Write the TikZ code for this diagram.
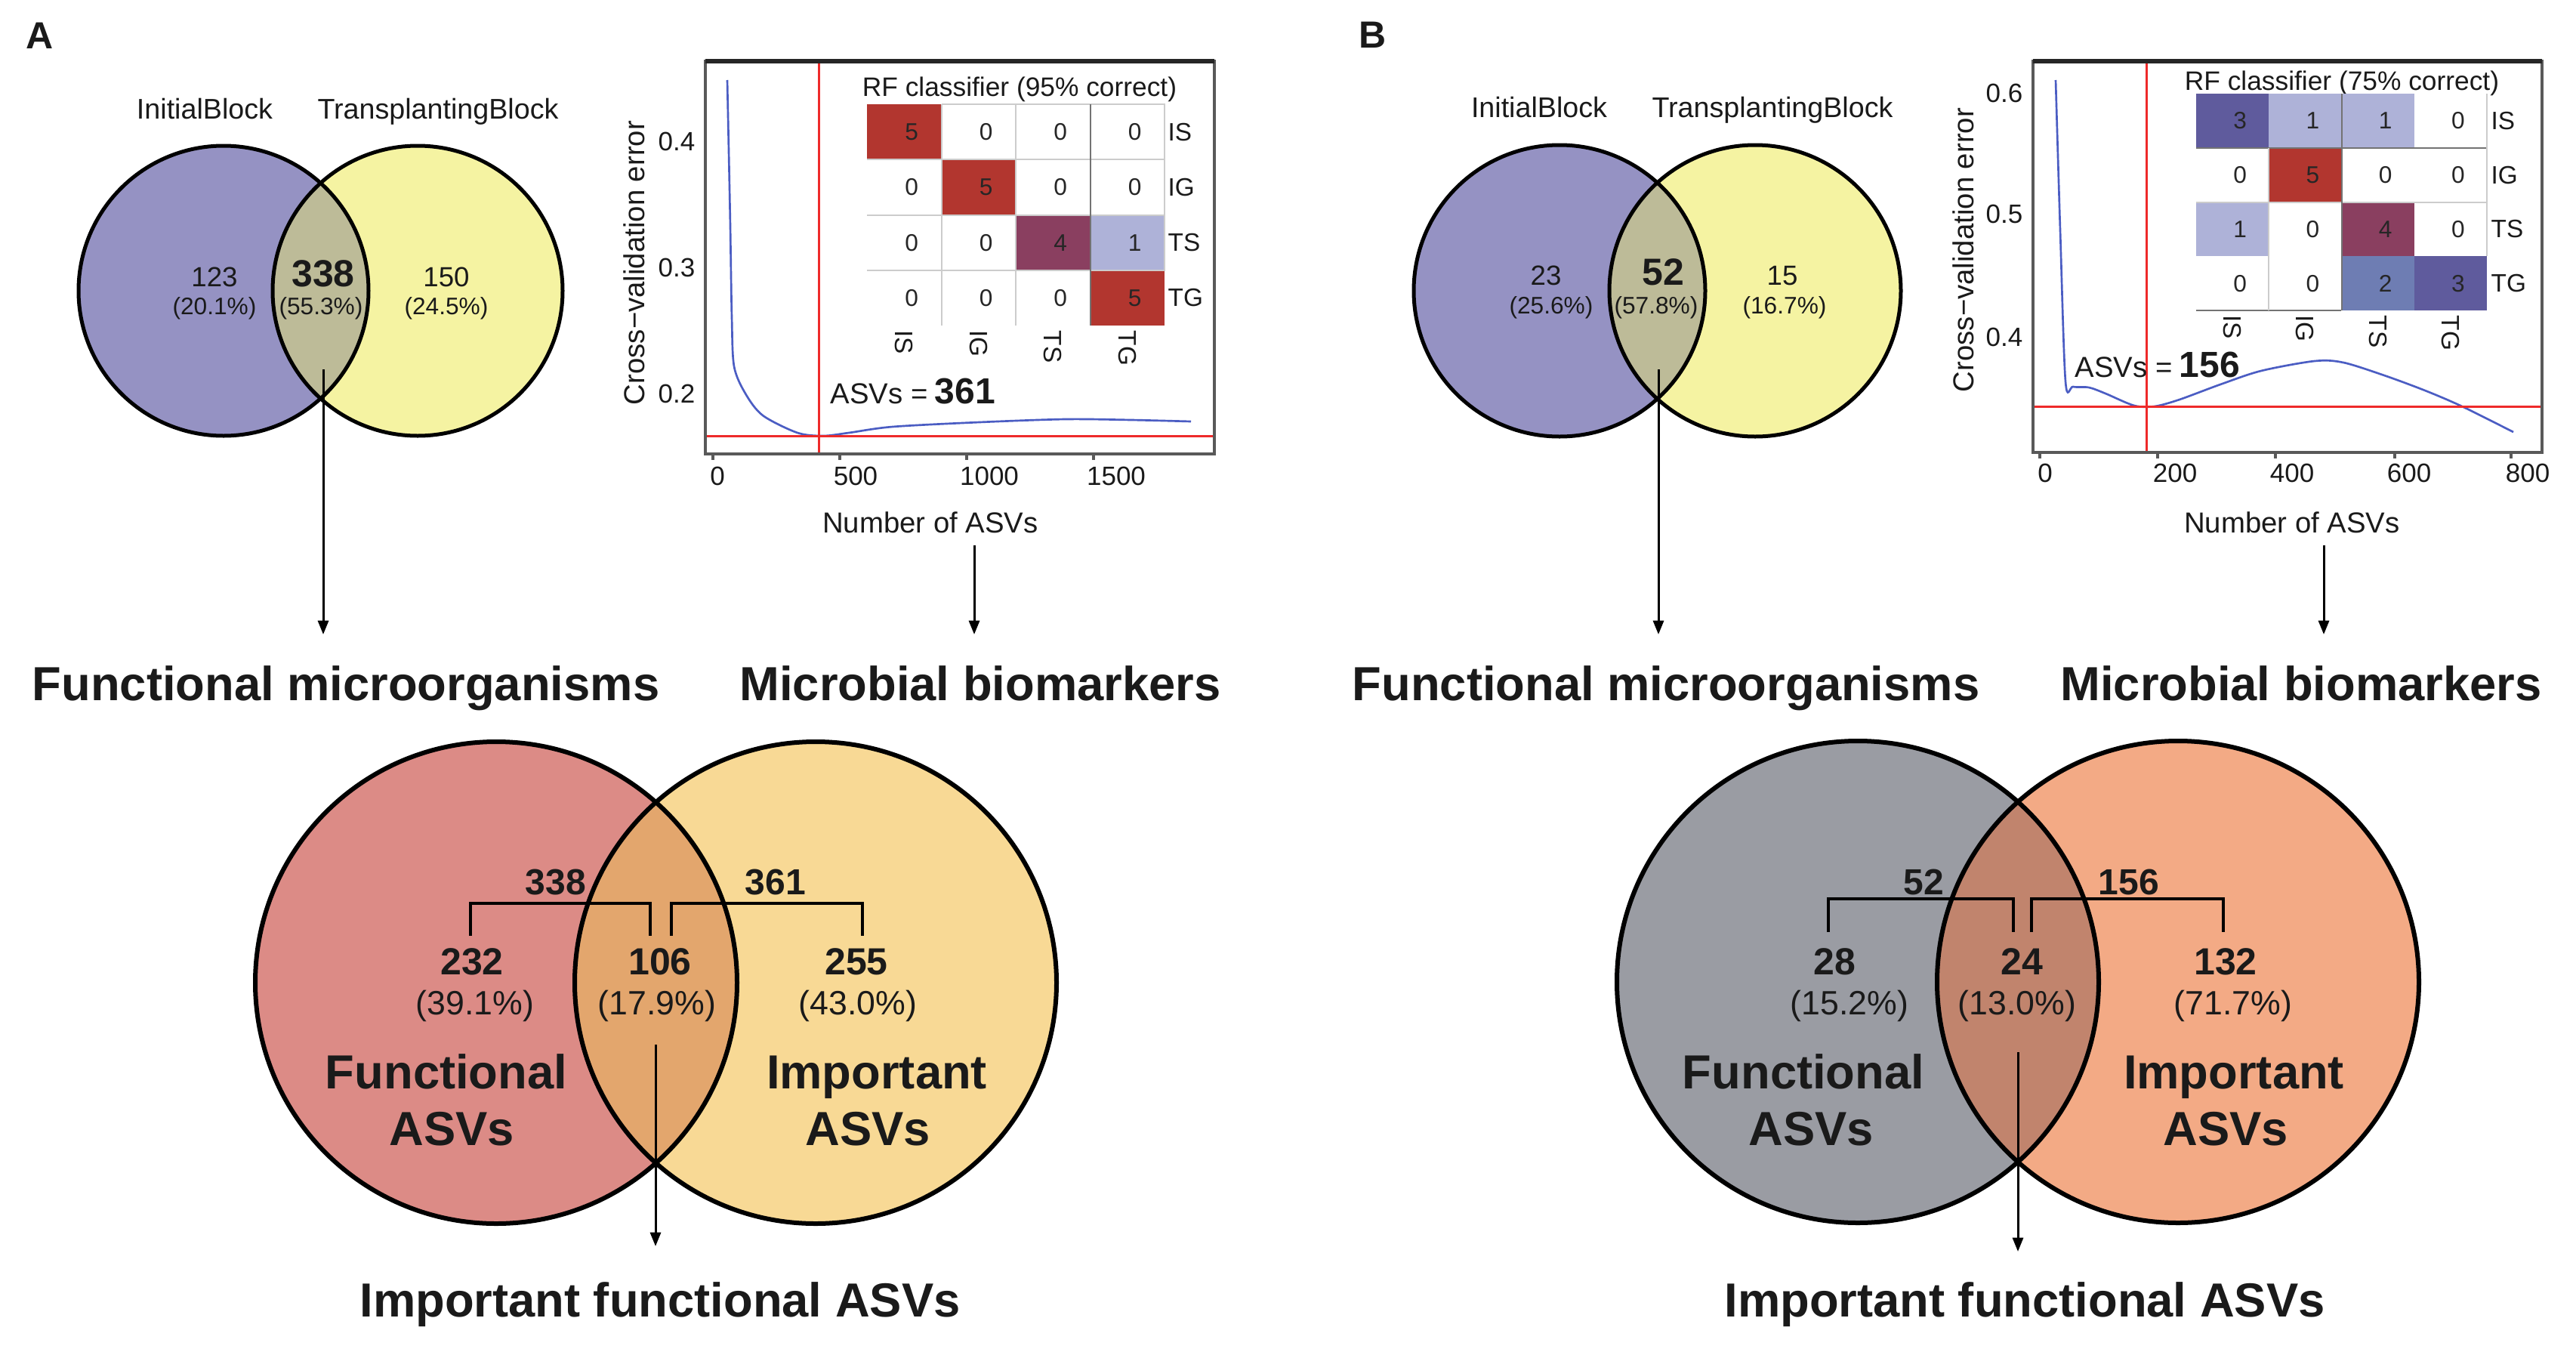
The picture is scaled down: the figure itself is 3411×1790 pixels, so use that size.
\documentclass[tikz,border=0pt]{standalone}
\usepackage{fontspec}
\setmainfont{Liberation Sans}
\usetikzlibrary{arrows.meta}
\definecolor{txt}{HTML}{1A1A1A}
\definecolor{vA1}{HTML}{9592C3}
\definecolor{vA2}{HTML}{F5F3A2}
\definecolor{vAI}{HTML}{BDBB98}
\definecolor{bA1}{HTML}{DC8B86}
\definecolor{bA2}{HTML}{F8D995}
\definecolor{bAI}{HTML}{E3A66D}
\definecolor{bB1}{HTML}{9A9CA3}
\definecolor{bB2}{HTML}{F3AA85}
\definecolor{bBI}{HTML}{C1846D}
\definecolor{cmR}{HTML}{B2362F}
\definecolor{cmP}{HTML}{8A3F60}
\definecolor{cmL}{HTML}{AEB2D8}
\definecolor{cmD}{HTML}{5F5B9D}
\definecolor{cmM}{HTML}{6E7DB3}
\definecolor{curveC}{HTML}{4B5DC3}
\definecolor{redC}{HTML}{EE2A2A}
\newcommand\fsz[1]{\fontsize{#1pt}{#1pt}\selectfont}
\begin{document}
\begin{tikzpicture}[x=0.3pt,y=-0.3pt,
  every node/.style={inner sep=0pt,text=txt},
  panel/.style={font=\fsz{15}\bfseries},
  setlbl/.style={font=\fsz{11.3},anchor=base},
  vnum/.style={font=\fsz{11},anchor=base},
  vnumb/.style={font=\fsz{15}\bfseries,anchor=base},
  vpct/.style={font=\fsz{9.5}},
  vline/.style={line width=1.5pt,draw=black},
  bline/.style={line width=1.8pt,draw=black},
  axbox/.style={line width=1pt,draw=black!65},
  tick/.style={font=\fsz{10.5}},
  axt/.style={font=\fsz{11.5}},
  redl/.style={line width=0.9pt,draw=redC},
  curve/.style={line width=0.8pt,draw=curveC},
  cell/.style={font=\fsz{9.5},inner sep=0pt,text=black!85},
  rowl/.style={font=\fsz{10}},
  gridl/.style={line width=0.6pt,draw=black!20},
  gridd/.style={line width=0.6pt,draw=black!55},
  arr/.style={line width=0.9pt,draw=black,-{Triangle[length=5.5pt,width=4.2pt]}},
  bigt/.style={font=\fsz{19}\bfseries,anchor=base},
  bnum/.style={font=\fsz{15}\bfseries,anchor=base},
  bpct/.style={font=\fsz{13.4}},
  brk/.style={line width=1.3pt,draw=black},
  asv/.style={anchor=base west}]
\fill[white] (0,0) rectangle (3411,1790);
\useasboundingbox (0,0) rectangle (3411,1790);

% ---------------- Panel labels
\node[panel] (labA) at (53,47) {A};
\node[panel] (labB) at (1818,46) {B};

% ================= PANEL A =================
% top Venn
\coordinate (cA1) at (296,385);
\coordinate (cA2) at (553,385);
\fill[vA1] (cA1) circle[radius=192];
\fill[vA2] (cA2) circle[radius=192];
\begin{scope}
  \clip (cA1) circle[radius=192];
  \fill[vAI] (cA2) circle[radius=192];
\end{scope}
\draw[vline] (cA1) circle[radius=192];
\draw[vline] (cA2) circle[radius=192];
\node[setlbl] (ibA) at (271,157) {InitialBlock};
\node[setlbl] (tbA) at (580,157) {TransplantingBlock};
\node[vnum] (nA1) at (284,379) {123};
\node[vpct] (pA1) at (284,408) {(20.1\%)};
\node[vnumb] (nA2) at (428,379) {338};
\node[vpct] (pA2) at (425,408) {(55.3\%)};
\node[vnum] (nA3) at (591,379) {150};
\node[vpct] (pA3) at (591,408) {(24.5\%)};

% plot A
\draw[curve] plot[smooth,tension=0.5] coordinates {(963,106) (965,200) (967,300) (969,420) (972,485) (987,521) (1010,550) (1056,573) (1090,577) (1124,573) (1182,565) (1297,559) (1411,555) (1498,556) (1577,558)};
\draw[redl] (1084,81) -- (1084,601);
\draw[redl] (934,577) -- (1608,577);
\draw[axbox] (934,81) rectangle (1608,601);
\draw[line width=1.6pt,black!85] (934,81) -- (1608,81);
\foreach \t in {944,1112,1280,1448} \draw[axbox] (\t,601) -- (\t,609);
\node[tick,anchor=base] (xA0) at (950,642) {0};
\node[tick,anchor=base] (xA1) at (1133,642) {500};
\node[tick,anchor=base] (xA2) at (1310,642) {1000};
\node[tick,anchor=base] (xA3) at (1478,642) {1500};
\node[tick,anchor=base east] (yA1) at (921,199) {0.4};
\node[tick,anchor=base east] (yA2) at (921,366) {0.3};
\node[tick,anchor=base east] (yA3) at (921,533) {0.2};
\node[axt,rotate=90] (ytA) at (840,348) {Cross−validation error};
\node[axt,anchor=base] (xtA) at (1232,705) {Number of ASVs};
\node[font=\fsz{10.6},anchor=base] (rfA) at (1350,127) {RF classifier (95\% correct)};
% confusion matrix A
\foreach \r/\c/\v/\col in {0/0/5/cmR,0/1/0/white,0/2/0/white,0/3/0/white,
  1/0/0/white,1/1/5/cmR,1/2/0/white,1/3/0/white,
  2/0/0/white,2/1/0/white,2/2/4/cmP,2/3/1/cmL,
  3/0/0/white,3/1/0/white,3/2/0/white,3/3/5/cmR}
  \node[cell,fill=\col,minimum width=29.6pt,minimum height=22pt] (mA\r\c) at ({1148+98.5*(\c+0.5)},{138+73.25*(\r+0.5)}) {\hspace{6pt}\v};
\foreach \k in {1,2,3} \draw[gridl] (1148,{138+73.25*\k}) -- (1542,{138+73.25*\k});
\foreach \k in {1,2} \draw[gridl] ({1148+98.5*\k},138) -- ({1148+98.5*\k},431);
\draw[gridl] (1246.5,138) -- (1542,138) -- (1542,358.5);
\draw[gridd] (1443.5,138) -- (1443.5,431);
\foreach \n/\t in {0/IS,1/IG,2/TS,3/TG}{
  \node[rowl,anchor=west] (rowA\n) at (1546,{138+73.25*(\n+0.5)}) {\t};
  \node[rowl,rotate=-90,anchor=west] (colA\n) at ({1148+98.5*(\n+0.5)},437) {\t};
}
\node[asv] (asvA) at (1099,534) {{\fsz{11.5}ASVs =} {\fsz{14.4}\bfseries 361}};

% arrows A
\coordinate (lensA) at (428,489);
\coordinate (tipA1) at (428,840);
\coordinate (xaA) at (1290,722);
\coordinate (tipA2) at (1290,840);
\draw[arr] (lensA) -- (tipA1);
\draw[arr] (xaA) -- (tipA2);
\node[bigt] (fmA) at (458,927) {Functional microorganisms};
\node[bigt] (mbA) at (1298,927) {Microbial biomarkers};

% big Venn A
\coordinate (CA1) at (657,1301);
\coordinate (CA2) at (1080,1301);
\fill[bA1] (CA1) circle[radius=319];
\fill[bA2] (CA2) circle[radius=319];
\begin{scope}
  \clip (CA1) circle[radius=319];
  \fill[bAI] (CA2) circle[radius=319];
\end{scope}
\draw[bline] (CA1) circle[radius=319];
\draw[bline] (CA2) circle[radius=319];
\coordinate (brA1) at (623,1239);
\coordinate (brA2) at (861,1239);
\coordinate (brA3) at (889,1239);
\coordinate (brA4) at (1142,1239);
\draw[brk] (brA1) -- ++(0,-43) -| (brA2);
\draw[brk] (brA3) -- ++(0,-43) -| (brA4);
\node[bnum,font=\fsz{14.4}\bfseries] (sA1) at (736,1184) {338};
\node[bnum,font=\fsz{14.4}\bfseries] (sA2) at (1027,1184) {361};
\node[bnum] (NA1) at (625,1290) {232};
\node[bnum] (NA2) at (874,1290) {106};
\node[bnum] (NA3) at (1134,1290) {255};
\node[bpct] (PA1) at (629,1332) {(39.1\%)};
\node[bpct] (PA2) at (870,1332) {(17.9\%)};
\node[bpct] (PA3) at (1136,1332) {(43.0\%)};
\node[bigt] (FA1) at (591,1441) {Functional};
\node[bigt] (FA2) at (598,1516) {ASVs};
\node[bigt] (IA1) at (1161,1441) {Important};
\node[bigt] (IA2) at (1149,1516) {ASVs};
\coordinate (lensA2) at (868,1383);
\coordinate (tipA3) at (868,1650);
\draw[arr] (lensA2) -- (tipA3);
\node[bigt] (ifA) at (874,1743) {Important functional ASVs};

% ================= PANEL B =================
\coordinate (cB1) at (2065,385);
\coordinate (cB2) at (2324,385);
\fill[vA1] (cB1) circle[radius=193];
\fill[vA2] (cB2) circle[radius=193];
\begin{scope}
  \clip (cB1) circle[radius=193];
  \fill[vAI] (cB2) circle[radius=193];
\end{scope}
\draw[vline] (cB1) circle[radius=193];
\draw[vline] (cB2) circle[radius=193];
\node[setlbl] (ibB) at (2038,155) {InitialBlock};
\node[setlbl] (tbB) at (2347,155) {TransplantingBlock};
\node[vnum] (nB1) at (2047,377) {23};
\node[vpct] (pB1) at (2054,407) {(25.6\%)};
\node[vnumb] (nB2) at (2202,377) {52};
\node[vpct] (pB2) at (2193,407) {(57.8\%)};
\node[vnum] (nB3) at (2360,377) {15};
\node[vpct] (pB3) at (2363,407) {(16.7\%)};

% plot B
\draw[curve] plot[smooth,tension=0.5] coordinates {(2722,106) (2728,305) (2735,505) (2745,512) (2766,513) (2788,521) (2826,537) (2853,538) (2886,529) (2940,509) (2994,491) (3065,478) (3103,480) (3157,497) (3211,517) (3260,538) (3328,572)};
\draw[redl] (2842,81) -- (2842,599);
\draw[redl] (2692,538) -- (3366,538);
\draw[axbox] (2692,81) rectangle (3366,599);
\draw[line width=1.6pt,black!85] (2692,81) -- (3366,81);
\foreach \t in {2701,2857,3013,3171,3325} \draw[axbox] (\t,599) -- (\t,607);
\node[tick,anchor=base] (xB0) at (2708,638) {0};
\node[tick,anchor=base] (xB1) at (2880,638) {200};
\node[tick,anchor=base] (xB2) at (3035,638) {400};
\node[tick,anchor=base] (xB3) at (3190,638) {600};
\node[tick,anchor=base] (xB4) at (3347,638) {800};
\node[tick,anchor=base east] (yB1) at (2679,135) {0.6};
\node[tick,anchor=base east] (yB2) at (2679,295) {0.5};
\node[tick,anchor=base east] (yB3) at (2679,458) {0.4};
\node[axt,rotate=90] (ytB) at (2600,331) {Cross−validation error};
\node[axt,anchor=base] (xtB) at (3035,705) {Number of ASVs};
\node[font=\fsz{10.6},anchor=base] (rfB) at (3101,119) {RF classifier (75\% correct)};
\foreach \r/\c/\v/\col in {0/0/3/cmD,0/1/1/cmL,0/2/1/cmL,0/3/0/white,
  1/0/0/white,1/1/5/cmR,1/2/0/white,1/3/0/white,
  2/0/1/cmL,2/1/0/white,2/2/4/cmP,2/3/0/white,
  3/0/0/white,3/1/0/white,3/2/2/cmM,3/3/3/cmD}
  \node[cell,fill=\col,minimum width=28.9pt,minimum height=21.5pt] (mB\r\c) at ({2908+96.25*(\c+0.5)},{124+71.75*(\r+0.5)}) {\hspace{6pt}\v};
\draw[gridd] (2908,195.75) -- (3293,195.75);
\draw[gridl] (2908,267.5) -- (3293,267.5);
\draw[gridd] (2908,411) -- (3100,411);
\draw[gridl] (3004.25,195.75) -- (3004.25,411);
\draw[gridd] (3100.5,124) -- (3100.5,411);
\draw[gridl] (3293,124) -- (3293,339.25);
\foreach \n/\t in {0/IS,1/IG,2/TS,3/TG}{
  \node[rowl,anchor=west] (rowB\n) at (3298,{124+71.75*(\n+0.5)}) {\t};
  \node[rowl,rotate=-90,anchor=west] (colB\n) at ({2908+96.25*(\n+0.5)},417) {\t};
}
\node[asv] (asvB) at (2747,499) {{\fsz{11.5}ASVs =} {\fsz{14.4}\bfseries 156}};

% arrows B
\coordinate (lensB) at (2196,489);
\coordinate (tipB1) at (2196,840);
\coordinate (xaB) at (3077,722);
\coordinate (tipB2) at (3077,840);
\draw[arr] (lensB) -- (tipB1);
\draw[arr] (xaB) -- (tipB2);
\node[bigt] (fmB) at (2206,927) {Functional microorganisms};
\node[bigt] (mbB) at (3047,927) {Microbial biomarkers};

% big Venn B
\coordinate (CB1) at (2460,1300);
\coordinate (CB2) at (2884,1300);
\fill[bB1] (CB1) circle[radius=319];
\fill[bB2] (CB2) circle[radius=319];
\begin{scope}
  \clip (CB1) circle[radius=319];
  \fill[bBI] (CB2) circle[radius=319];
\end{scope}
\draw[bline] (CB1) circle[radius=319];
\draw[bline] (CB2) circle[radius=319];
\coordinate (brB1) at (2421,1234);
\coordinate (brB2) at (2666,1234);
\coordinate (brB3) at (2690,1234);
\coordinate (brB4) at (2944,1234);
\draw[brk] (brB1) -- ++(0,-44) -| (brB2);
\draw[brk] (brB3) -- ++(0,-44) -| (brB4);
\node[bnum,font=\fsz{14.4}\bfseries] (sB1) at (2547,1184) {52};
\node[bnum,font=\fsz{14.4}\bfseries] (sB2) at (2819,1184) {156};
\node[bnum] (NB1) at (2429,1290) {28};
\node[bnum] (NB2) at (2677,1290) {24};
\node[bnum] (NB3) at (2947,1290) {132};
\node[bpct] (PB1) at (2449,1332) {(15.2\%)};
\node[bpct] (PB2) at (2671,1332) {(13.0\%)};
\node[bpct] (PB3) at (2957,1332) {(71.7\%)};
\node[bigt] (FB1) at (2388,1441) {Functional};
\node[bigt] (FB2) at (2398,1516) {ASVs};
\node[bigt] (IB1) at (2958,1441) {Important};
\node[bigt] (IB2) at (2947,1516) {ASVs};
\coordinate (lensB2) at (2672,1393);
\coordinate (tipB3) at (2672,1657);
\draw[arr] (lensB2) -- (tipB3);
\node[bigt] (ifB) at (2681,1743) {Important functional ASVs};
\end{tikzpicture}
\end{document}
